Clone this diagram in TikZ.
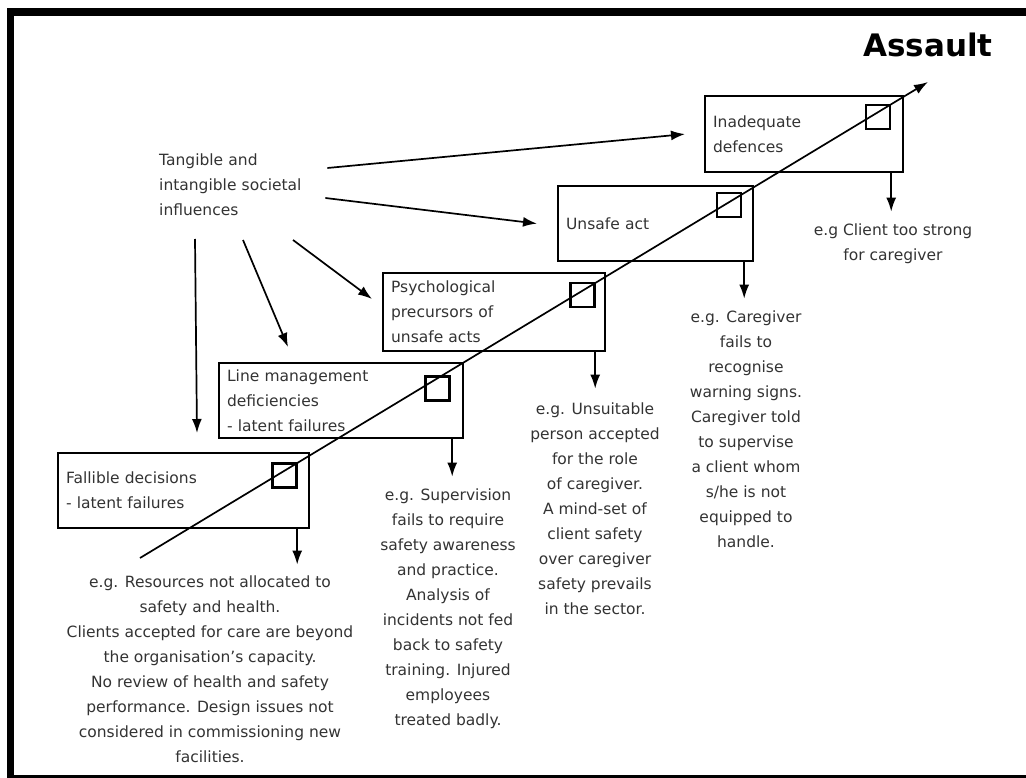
\documentclass[tikz,border=0pt]{standalone}
\usepackage{fontspec}
\setmainfont{DejaVu Sans}
\usepackage{tikz}
\usetikzlibrary{positioning, arrows.meta, calc}
\newcommand{\bodyfont}{\fontsize{15.5}{25}\selectfont}
\tikzset{
    stage/.style={rectangle, draw=black, line width=2.2pt, align=left, text width=#1, inner xsep=8pt, minimum height=75pt, anchor=north west, font=\bodyfont, text=black!80},
    hole/.style={rectangle, draw=black, line width=2.2pt, minimum size=24pt, inner sep=0pt},
    note/.style={align=center, inner sep=0pt, anchor=north, font=\bodyfont, text=black!80},
    arr/.style={-{Latex[length=14pt, width=10pt]}, line width=1.7pt},
    down/.style={arr, shorten >=12pt},
}

\begin{document}
\begin{tikzpicture}[x=1pt, y=-1pt]
        \fill[white, use as bounding box] (0,0) rectangle (1026,778);
        \draw[line width=7.5pt] (10.5,12) rectangle (1032,779);

        \node [font=\fontsize{31}{36}\selectfont\bfseries, anchor=base] (title) at (928,57) {Assault};

        \node [stage=235pt] (fallible) at (57,452) {Fallible decisions\\- latent failures};
        \node [stage=228pt] (linemgmt) at (218,362) {Line management\\deficiencies\\- latent failures};
        \node [stage=206pt, minimum height=78pt] (psych) at (382,272) {Psychological\\precursors of\\unsafe acts};
        \node [stage=179pt] (unsafe) at (557,185) {Unsafe act};
        \node [stage=182pt, minimum height=76pt] (defences) at (704,95) {Inadequate\\defences};

        \node [hole] (hfallible) at (284.5,475.5) {};
        \node [hole] (hlinemgmt) at (437.5,388.5) {};
        \node [hole] (hpsych) at (582.5,295) {};
        \node [hole] (hunsafe) at (729,205) {};
        \node [hole] (hdefences) at (878,117) {};

        \coordinate (chainstart) at (140,558);
        \coordinate (chainend) at (928,82);
        \draw[arr] (chainstart) -- (chainend);

        \node [font=\bodyfont, text=black!80, align=left, text width=150pt, inner xsep=4pt, inner ysep=0pt, anchor=west] (soc) at (155,185) {Tangible and\\intangible societal\\influences};

        \draw[arr] ($(soc.east)+(14,-17)$) -- ($(defences.west)+(-19,0)$);
        \draw[arr] ($(soc.east)+(12,13)$) -- ($(unsafe.west)+(-20,0)$);
        \draw[arr] ($(soc.west)+(138,55)$) -- ($(psych.north west)+(-10,27)$);
        \draw[arr] ($(soc.west)+(88,55)$) -- ($(linemgmt.north west)+(70,-15)$);
        \draw[arr] ($(soc.west)+(40,54)$) -- ($(fallible.north west)+(140,-19)$);

        \node [note] (exfallible) at (210,575.6) {e.g. Resources not allocated to\\safety and health.\\Clients accepted for care are beyond\\the organisation’s capacity.\\No review of health and safety\\performance. Design issues not\\considered in commissioning new\\facilities.};
        \node [note] (exlinemgmt) at (448,488.6) {e.g. Supervision\\fails to require\\safety awareness\\and practice.\\Analysis of\\incidents not fed\\back to safety\\training. Injured\\employees\\treated badly.};
        \node [note] (expsych) at (595,402.6) {e.g. Unsuitable\\person accepted\\for the role\\of caregiver.\\A mind-set of\\client safety\\over caregiver\\safety prevails\\in the sector.};
        \node [note] (exunsafe) at (746,310.6) {e.g. Caregiver\\fails to\\recognise\\warning signs.\\Caregiver told\\to supervise\\a client whom\\s/he is not\\equipped to\\handle.};
        \node [note] (exdefences) at (893,223.6) {e.g Client too strong\\for caregiver};

        \coordinate (dfallible) at ([xshift=-13pt]fallible.south east);
        \coordinate (dlinemgmt) at ([xshift=-12pt]linemgmt.south east);
        \coordinate (dpsych) at ([xshift=-11pt]psych.south east);
        \coordinate (dunsafe) at ([xshift=-10pt]unsafe.south east);
        \coordinate (ddefences) at ([xshift=-13pt]defences.south east);
        \draw[down, shorten >=11pt] (dfallible) -- (dfallible |- exfallible.north);
        \draw[down] (dlinemgmt) -- (dlinemgmt |- exlinemgmt.north);
        \draw[down, shorten >=14pt] (dpsych) -- (dpsych |- expsych.north);
        \draw[down] (dunsafe) -- (dunsafe |- exunsafe.north);
        \draw[down] (ddefences) -- (ddefences |- exdefences.north);
    \end{tikzpicture}
\end{document}
